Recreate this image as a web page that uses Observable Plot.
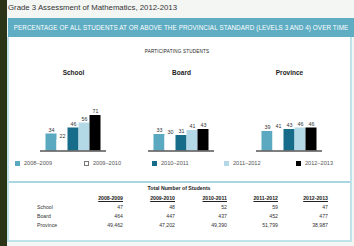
<!DOCTYPE html>
<html><head><meta charset="utf-8">
<script src="https://cdn.jsdelivr.net/npm/d3@7"></script>
<script src="https://cdn.jsdelivr.net/npm/@observablehq/plot@0.6"></script>
<style>
html,body{margin:0;padding:0;}
body{width:354px;height:246px;position:relative;overflow:hidden;background:#f4f6f4;font-family:"Liberation Sans",Arial,sans-serif;}
.abs{position:absolute;}
#strip{left:0;top:0;width:7px;height:246px;background:#2c3418;}
#title{left:8px;top:3px;font-size:7.8px;color:#333;white-space:nowrap;}
#header{left:8px;top:18px;width:346px;height:19px;background:#5eadc3;color:#fff;font-size:6.3px;line-height:19px;text-align:center;white-space:nowrap;letter-spacing:0.1px;}
#panel{left:7px;top:37px;width:341px;height:203px;background:#fff;border:2px solid #bfe3ea;border-top:none;}
#sep{left:9px;top:181px;width:341px;height:2px;background:#a9d6e1;}
#sub{left:0;width:354px;top:49px;text-align:center;font-size:4.6px;color:#222;letter-spacing:0.2px;}
#chart{left:0;top:60px;}
.leg{position:absolute;top:160px;font-size:5.6px;color:#555;white-space:nowrap;}
.sw{display:inline-block;width:5px;height:5px;vertical-align:-0.5px;margin-right:4px;box-sizing:border-box;}
.tt{position:absolute;font-size:5.2px;color:#222;white-space:nowrap;}
</style></head><body>
<div id="strip" class="abs"></div>
<div id="title" class="abs">Grade 3 Assessment of Mathematics, 2012-2013</div>
<div id="panel" class="abs"></div>
<div id="header" class="abs">PERCENTAGE OF ALL STUDENTS AT OR ABOVE THE PROVINCIAL STANDARD (LEVELS 3 AND 4) OVER TIME</div>
<div id="sep" class="abs"></div>
<div id="sub" class="abs">PARTICIPATING STUDENTS</div>
<div id="chart" class="abs"></div>
<div id="legend"></div>
<div id="table"></div>
<script>
const years = ["2008–2009", "2009–2010", "2010–2011", "2011–2012", "2012–2013"];
const groups = ["School", "Board", "Province"];
const schoolValues = [34, 22, 46, 56, 71];
const boardValues = [33, 30, 31, 41, 43];
const provinceValues = [39, 41, 43, 46, 46];
const tableTitle = "Total Number of Students";
const tableRows = ["School", "Board", "Province"];
const schoolCounts = ["47", "48", "52", "59", "47"];
const boardCounts = ["464", "447", "437", "452", "477"];
const provinceCounts = ["49,462", "47,202", "49,390", "51,799", "38,987"];

const colors = ["#5aa9c0", "#ffffff", "#176c89", "#b4d9e6", "#000000"];
const series = [schoolValues, boardValues, provinceValues];
const data = groups.flatMap((g, i) => years.map((y, j) => ({group: g, year: y, value: series[i][j]})));

const chart = Plot.plot({
  width: 354, height: 97,
  marginLeft: 38.5, marginRight: 30.5, marginTop: 10, marginBottom: 6.5,
  style: {fontFamily: "Liberation Sans, Arial, sans-serif", fontSize: "5px", background: "transparent", color: "#333"},
  fx: {domain: groups, paddingInner: 0.385, paddingOuter: 0, axis: null, label: null},
  x: {domain: years, paddingInner: 0.04, paddingOuter: 0.435, axis: null},
  y: {domain: [0, 100], range: [90.5, 40.5], axis: null},
  color: {domain: years, range: colors},
  marks: [
    Plot.barY(data, {fx: "group", x: "year", y: "value", fill: "year"}),
    Plot.text(data, {fx: "group", x: "year", y: "value", text: d => String(d.value), dy: -4, fontSize: 5.3, fill: "#333"}),
    Plot.ruleY([0], {stroke: "#555", strokeWidth: 1.5}),
    Plot.text(groups, {fx: d => d, text: d => d, frameAnchor: "top", fontWeight: "bold", fontSize: 6.5, fill: "#222"})
  ]
});
document.getElementById("chart").appendChild(chart);

// legend
const legX = [15, 84, 152, 224, 296];
const legend = document.getElementById("legend");
years.forEach((y, i) => {
  const d = document.createElement("div");
  d.className = "leg";
  d.style.left = legX[i] + "px";
  const sw = document.createElement("span");
  sw.className = "sw";
  sw.style.background = colors[i];
  sw.style.border = i === 1 ? "0.7px solid #777" : "none";
  d.appendChild(sw);
  d.appendChild(document.createTextNode(y));
  legend.appendChild(d);
});

// table
const table = document.getElementById("table");
function addText(txt, x, y, align, extra) {
  const d = document.createElement("div");
  d.className = "tt";
  d.textContent = txt;
  d.style.top = y + "px";
  if (align === "center") { d.style.left = (x - 50) + "px"; d.style.width = "100px"; d.style.textAlign = "center"; }
  else if (align === "right") { d.style.left = (x - 60) + "px"; d.style.width = "60px"; d.style.textAlign = "right"; }
  else d.style.left = x + "px";
  Object.assign(d.style, extra || {});
  table.appendChild(d);
}
addText(tableTitle, 179, 185, "center", {fontWeight: "bold"});
const colR = [123, 175, 227, 278, 328];
const headers = years.map(y => y.replace("–", "-"));
headers.forEach((h, i) => addText(h, colR[i], 195, "right", {fontWeight: "bold", textDecoration: "underline"}));
const counts = [schoolCounts, boardCounts, provinceCounts];
const rowY = [204, 213, 222];
tableRows.forEach((r, k) => {
  addText(r, 37, rowY[k], "left", {color: "#333"});
  counts[k].forEach((v, i) => addText(v, colR[i], rowY[k], "right", {color: "#333"}));
});
</script>
</body></html>
